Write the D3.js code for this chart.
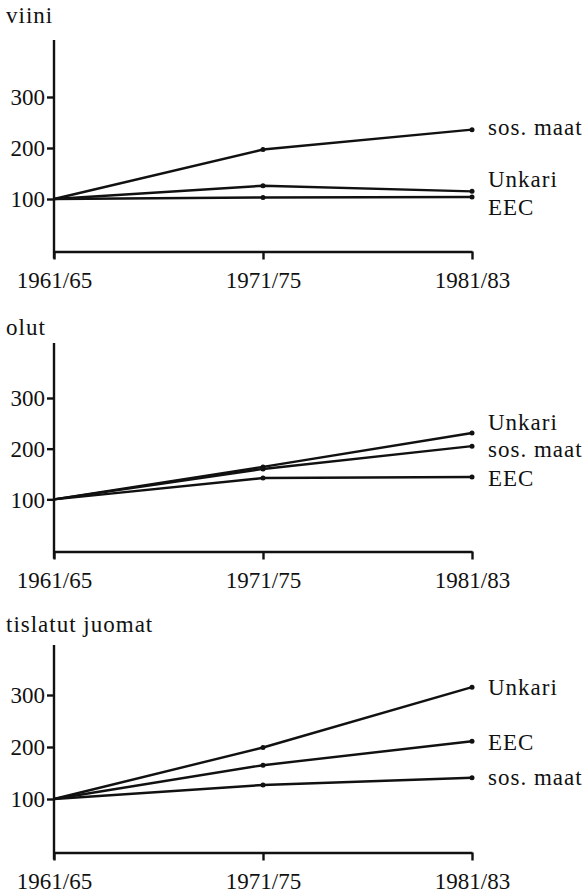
<!DOCTYPE html>
<html>
<head>
<meta charset="utf-8">
<script src="https://cdn.jsdelivr.net/npm/d3@7/dist/d3.min.js"></script>
<style>
  html, body { margin: 0; padding: 0; background: #fff; }
  svg { display: block; }
  svg text { fill: #111; }
</style>
</head>
<body>
<svg id="chart" width="583" height="895"></svg>
<script>
// ---- data ----
const periods = ["1961/65", "1971/75", "1981/83"];
const yTicks = [100, 200, 300];
const panelTitles = ["viini", "olut", "tislatut juomat"];

// viini (wine)
const viiniSosMaat = [100, 197, 236];
const viiniUnkari  = [100, 126, 115];
const viiniEEC     = [100, 103, 104];
// olut (beer)
const olutUnkari   = [100, 164, 231];
const olutSosMaat  = [100, 160, 205];
const olutEEC      = [100, 142, 144];
// tislatut juomat (spirits)
const tislUnkari   = [100, 199, 315];
const tislEEC      = [100, 165, 211];
const tislSosMaat  = [100, 127, 141];

const panelSeries = [
  [{name: "sos. maat", values: viiniSosMaat}, {name: "Unkari", values: viiniUnkari}, {name: "EEC", values: viiniEEC}],
  [{name: "Unkari", values: olutUnkari}, {name: "sos. maat", values: olutSosMaat}, {name: "EEC", values: olutEEC}],
  [{name: "Unkari", values: tislUnkari}, {name: "EEC", values: tislEEC}, {name: "sos. maat", values: tislSosMaat}]
];

// ---- layout (positions only) ----
const layout = [
  {titleY: 23,  axisTop: 40,  zeroY: 250, y300: 97,  labelY: [135, 187, 215]},
  {titleY: 335, axisTop: 343, zeroY: 550, y300: 398, labelY: [430, 457, 486]},
  {titleY: 632, axisTop: 645, zeroY: 851, y300: 695, labelY: [695, 750, 785]}
];
const xLeft = 54, xRight = 472, labelX = 488;
const fontSize = 23;
const ink = "#111";
const serif = "'Liberation Serif', Tinos, 'Times New Roman', Times, 'DejaVu Serif', serif";

const svg = d3.select("#chart");
const x = d3.scalePoint().domain(periods).range([xLeft, xRight]);

panelSeries.forEach((series, i) => {
  const L = layout[i];
  const y = d3.scaleLinear().domain([0, 300]).range([L.zeroY, L.y300]);
  const g = svg.append("g");
  const axisY = L.zeroY + 1.5;

  // title
  g.append("text").attr("x", 6).attr("y", L.titleY)
    .attr("font-family", serif).attr("font-size", fontSize)
    .attr("letter-spacing", 1).text(panelTitles[i]);

  // y axis line
  g.append("line").attr("x1", xLeft).attr("x2", xLeft)
    .attr("y1", L.axisTop).attr("y2", axisY + 7)
    .attr("stroke", ink).attr("stroke-width", 2.4);

  // y ticks
  const ya = d3.axisLeft(y).tickValues(yTicks).tickSize(7).tickPadding(2).tickFormat(d3.format("d"));
  const yg = g.append("g").attr("transform", `translate(${xLeft},0)`).call(ya)
    .attr("font-family", serif).attr("font-size", fontSize);
  yg.select(".domain").remove();
  yg.selectAll(".tick line").attr("stroke", ink).attr("stroke-width", 2.4);
  yg.selectAll(".tick text").attr("fill", ink).attr("dy", "0.34em");

  // x axis
  const xa = d3.axisBottom(x).tickSize(8).tickSizeOuter(0);
  const xg = g.append("g").attr("transform", `translate(0,${axisY})`).call(xa)
    .attr("font-family", serif).attr("font-size", fontSize);
  xg.select(".domain").attr("stroke", ink).attr("stroke-width", 2.4);
  xg.selectAll(".tick line").attr("stroke", ink).attr("stroke-width", 2.4);
  xg.selectAll(".tick text").attr("fill", ink).attr("y", 36).attr("dy", 0);

  // lines
  const line = d3.line().x((d, j) => x(periods[j])).y(d => y(d));
  series.forEach((s, k) => {
    g.append("path").datum(s.values).attr("d", line)
      .attr("fill", "none").attr("stroke", ink).attr("stroke-width", 2.4)
      .attr("stroke-linejoin", "round");
    g.selectAll(null).data(s.values.slice(1)).enter().append("circle")
      .attr("cx", (d, j) => x(periods[j + 1])).attr("cy", d => y(d))
      .attr("r", 2.5).attr("fill", ink);
    g.append("text").attr("x", labelX).attr("y", L.labelY[k])
      .attr("font-family", serif).attr("font-size", fontSize)
      .attr("letter-spacing", 1).text(s.name);
  });
});
</script>
</body>
</html>
